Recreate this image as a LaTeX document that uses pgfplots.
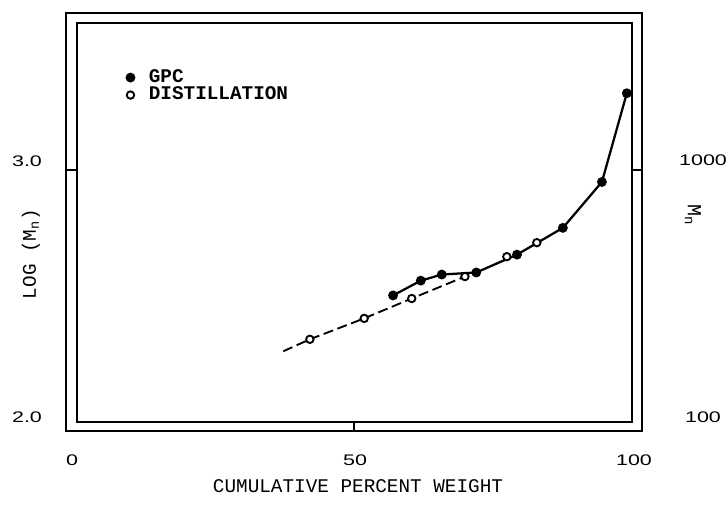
\documentclass[border=0pt]{standalone}
\usepackage{pgfplots}
\pgfplotsset{compat=1.18}
\usepackage{fontspec}
\setmainfont{Liberation Sans}
\newfontfamily\cour{Liberation Mono}
\begin{document}
\begin{tikzpicture}[x=0.75pt,y=-0.75pt]
\useasboundingbox (0,0) rectangle (728,510);
\begin{axis}[
  at={(53.25pt,-319.5pt)}, anchor=south west,
  scale only axis, width=424.5pt, height=306pt,
  xmin=0, xmax=100, ymin=2, ymax=3.6,
  axis lines=none, ticks=none, clip=false,
  legend style={draw=none, fill=none, at={(0.098,0.876)}, anchor=north west,
    font=\cour\bfseries\fontsize{14.5}{15}\selectfont, inner sep=0pt,
    column sep=11pt, row sep=0pt, cells={anchor=west},
    nodes={inner sep=0pt, text height=10pt, text depth=3.1pt}},
  legend image code/.code={\draw[#1, solid] plot[only marks] coordinates {(0.12cm,0cm)};},
]
\addplot[black, line width=1.7pt, mark=*, mark size=2.8pt] coordinates {
 (56.9,2.512) (61.8,2.570) (65.5,2.594) (71.6,2.602) (78.8,2.672)
 (86.9,2.777) (93.8,2.957) (98.2,3.305)};
\addlegendentry{GPC}
\addplot[black, line width=1.4pt, dash pattern=on 7.5pt off 3.5pt, forget plot] coordinates {
 (37.5,2.293) (42.2,2.340) (51.8,2.422) (60.2,2.500) (69.6,2.586) (71.6,2.602)};
\addplot[only marks, mark=*, mark size=2.8pt, mark options={fill=white, draw=black, line width=1.4pt}] coordinates {
 (42.2,2.340) (51.8,2.422) (60.2,2.500) (69.6,2.586) (77.0,2.664) (82.3,2.719)};
\addlegendentry{DISTILLATION}
\end{axis}
% double frame
\draw[line width=2.2pt] (66,13) rectangle (642,431);
\draw[line width=2.2pt] (77,23) rectangle (632,422);
\draw[line width=1.2pt] (354,422) -- (354,431);
\draw[line width=1.2pt] (66,170) -- (77,170);
\draw[line width=1.2pt] (632,170) -- (642,170);
% tick labels
\begin{scope}[every node/.style={font=\fontsize{11.5}{12}\selectfont, xscale=1.4}]
\node at (72,460) {0};
\node at (355,460) {50};
\node at (634,460) {100};
\node at (27,161) {3.0};
\node at (27,417) {2.0};
\node at (703,160) {1000};
\node at (703,417) {100};
\end{scope}
\node[font=\cour\fontsize{14.5}{15}\selectfont] at (358,486) {CUMULATIVE PERCENT WEIGHT};
\node[rotate=90, font=\cour\fontsize{14.5}{15}\selectfont] at (31,254) {LOG (M\textsubscript{n})};
\node[rotate=-90, font=\cour\fontsize{15}{15}\selectfont] at (693,215) {M\textsubscript{n}};
\end{tikzpicture}
\end{document}
